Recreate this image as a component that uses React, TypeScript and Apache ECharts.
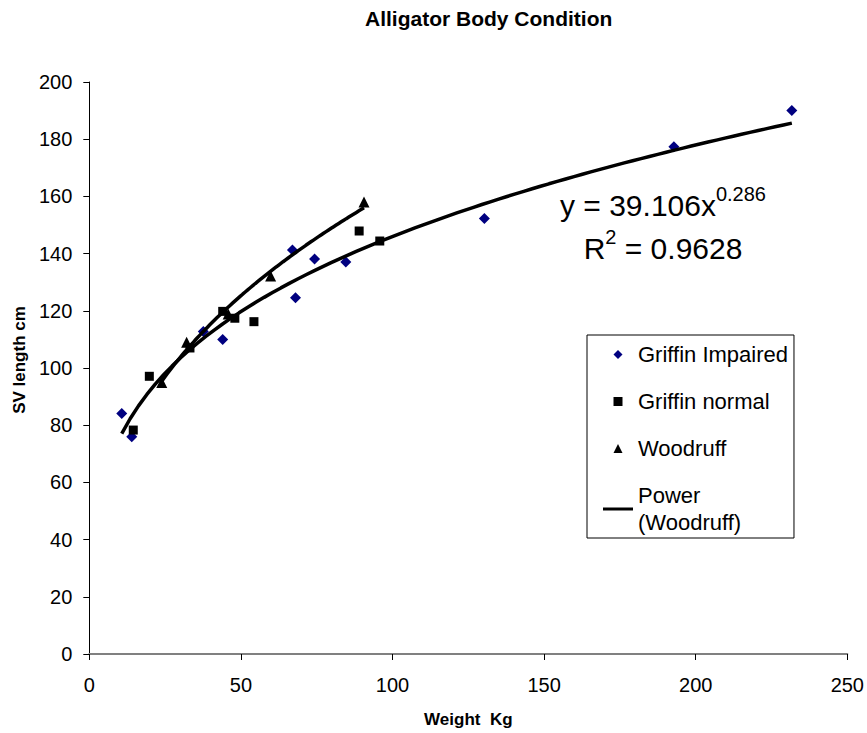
import React, { useEffect, useRef } from "react";
import * as echarts from "echarts";

// Data
const weightImpaired = [10.7, 14.0, 37.6, 44.0, 67.0, 68.0, 74.3, 84.6, 130.3, 192.8, 231.7];
const lengthImpaired = [84.1, 76.0, 112.8, 110.0, 141.3, 124.6, 138.1, 137.1, 152.3, 177.4, 190.0];

const weightNormal = [14.5, 19.8, 33.2, 44.0, 48.0, 54.3, 89.0, 95.8];
const lengthNormal = [78.3, 97.1, 107.0, 119.8, 117.4, 116.2, 147.9, 144.4];

const weightWoodruff = [23.9, 32.1, 45.8, 59.8, 90.6];
const lengthWoodruff = [94.9, 109.0, 118.9, 132.2, 158.0];

// Displayed trendline equation (power fit shown on the chart)
const shownCoefA = 39.106;
const shownCoefB = 0.286;
const shownR2 = "0.9628";

const xTicks = { min: 0, max: 250, interval: 50 };
const yTicks = { min: 0, max: 200, interval: 20 };

const FONT = "'Liberation Sans', Arial, Helvetica, sans-serif";

function pairs(xs: number[], ys: number[]) {
  return xs.map((x, i) => [x, ys[i]]);
}

// Least-squares power fit in log space (as a spreadsheet power trendline does)
function powerFit(xs: number[], ys: number[]) {
  const lx = xs.map(Math.log);
  const ly = ys.map(Math.log);
  const n = xs.length;
  const mx = lx.reduce((a, b) => a + b, 0) / n;
  const my = ly.reduce((a, b) => a + b, 0) / n;
  let sxy = 0;
  let sxx = 0;
  for (let i = 0; i < n; i++) {
    sxy += (lx[i] - mx) * (ly[i] - my);
    sxx += (lx[i] - mx) * (lx[i] - mx);
  }
  const b = sxy / sxx;
  const a = Math.exp(my - b * mx);
  return { a, b };
}

function curve(a: number, b: number, x0: number, x1: number, steps = 80) {
  const out: number[][] = [];
  for (let i = 0; i <= steps; i++) {
    const x = x0 + ((x1 - x0) * i) / steps;
    out.push([x, a * Math.pow(x, b)]);
  }
  return out;
}

export default function App() {
  const ref = useRef<HTMLDivElement>(null);

  useEffect(() => {
    document.body.style.margin = "0";
    if (!ref.current) return;
    const chart = echarts.init(ref.current, null, { renderer: "svg" });

    const wf = powerFit(weightWoodruff, lengthWoodruff);
    const woodruffCurve = curve(
      wf.a,
      wf.b,
      Math.min(...weightWoodruff),
      Math.max(...weightWoodruff)
    );
    const impairedCurve = curve(
      shownCoefA,
      shownCoefB,
      Math.min(...weightImpaired),
      Math.max(...weightImpaired)
    );

    chart.setOption({
      animation: false,
      backgroundColor: "#ffffff",
      textStyle: { fontFamily: FONT },
      title: {
        text: "Alligator Body Condition",
        left: 365,
        top: 8,
        padding: 0,
        textStyle: { fontFamily: FONT, fontWeight: "bold", fontSize: 21, color: "#000" },
      },
      grid: { left: 89.3, right: 19.3, top: 82, bottom: 76.3, containLabel: false },
      xAxis: {
        type: "value",
        min: xTicks.min,
        max: xTicks.max,
        interval: xTicks.interval,
        name: "Weight  Kg",
        nameLocation: "middle",
        nameGap: 57,
        nameTextStyle: { fontFamily: FONT, fontWeight: "bold", fontSize: 17, color: "#000" },
        axisLine: { show: true, onZero: false, lineStyle: { color: "#808080", width: 2 } },
        axisTick: { show: true, inside: false, length: 6, lineStyle: { color: "#000", width: 1 } },
        axisLabel: { fontFamily: FONT, fontSize: 20, color: "#000", margin: 21 },
        splitLine: { show: false },
      },
      yAxis: {
        type: "value",
        min: yTicks.min,
        max: yTicks.max,
        interval: yTicks.interval,
        name: "SV length cm",
        nameLocation: "middle",
        nameGap: 56,
        nameTextStyle: {
          fontFamily: FONT,
          fontWeight: "bold",
          fontSize: 17,
          color: "#000",
          padding: [0, 0, 0, 16],
        },
        axisLine: { show: true, onZero: false, lineStyle: { color: "#000", width: 1 } },
        axisTick: { show: true, inside: false, length: 6, lineStyle: { color: "#000", width: 1 } },
        axisLabel: { fontFamily: FONT, fontSize: 20, color: "#000", margin: 17 },
        splitLine: { show: false },
      },
      legend: {
        orient: "vertical",
        left: 587,
        top: 335,
        data: [
          { name: "Griffin Impaired", icon: "path://M5,0L10,5L5,10L0,5Z" },
          { name: "Griffin normal", icon: "path://M0,0L10,0L10,10L0,10Z" },
          { name: "Woodruff", icon: "path://M5,0L10,10L0,10Z" },
          { name: "Power (Woodruff)", icon: "path://M0,0L30,0L30,3L0,3Z" },
        ],
        symbolKeepAspect: true,
        borderColor: "#000",
        borderWidth: 1,
        padding: [6, 6, 2, 16],
        itemGap: 20,
        itemWidth: 30,
        itemHeight: 9,
        formatter: (name: string) => (name === "Power (Woodruff)" ? "Power\n(Woodruff)" : name),
        textStyle: { fontFamily: FONT, fontSize: 22, color: "#000", lineHeight: 27 },
      },
      series: [
        {
          name: "Griffin Impaired",
          type: "scatter",
          symbol: "diamond",
          symbolSize: 11,
          itemStyle: { color: "#000080", opacity: 1 },
          data: pairs(weightImpaired, lengthImpaired),
        },
        {
          name: "Griffin normal",
          type: "scatter",
          symbol: "rect",
          symbolSize: 9,
          itemStyle: { color: "#000000", opacity: 1 },
          data: pairs(weightNormal, lengthNormal),
        },
        {
          name: "Woodruff",
          type: "scatter",
          symbol: "triangle",
          symbolSize: 11,
          itemStyle: { color: "#000000", opacity: 1 },
          data: pairs(weightWoodruff, lengthWoodruff),
        },
        {
          name: "Power (Griffin Impaired)",
          type: "line",
          symbol: "none",
          showSymbol: false,
          lineStyle: { color: "#000", width: 3.5 },
          itemStyle: { color: "#000" },
          data: impairedCurve,
        },
        {
          name: "Power (Woodruff)",
          type: "line",
          symbol: "none",
          showSymbol: false,
          lineStyle: { color: "#000", width: 3.5 },
          itemStyle: { color: "#000" },
          data: woodruffCurve,
        },
      ],
      graphic: [
        {
          type: "text",
          x: 663,
          y: 184,
          z: 10,
          style: {
            text: `{m|y = ${shownCoefA}x}{s|${shownCoefB}}\n{m|R}{s|2}{m| = ${shownR2}}`,
            align: "center",
            verticalAlign: "top",
            fill: "#000",
            fontFamily: FONT,
            rich: {
              m: { fontFamily: FONT, fontSize: 30, lineHeight: 43, fill: "#000" },
              s: { fontFamily: FONT, fontSize: 20, lineHeight: 20, verticalAlign: "top", fill: "#000" },
            },
          },
        },
      ],
    });

    return () => chart.dispose();
  }, []);

  return <div ref={ref} style={{ width: 867, height: 733 }} />;
}
